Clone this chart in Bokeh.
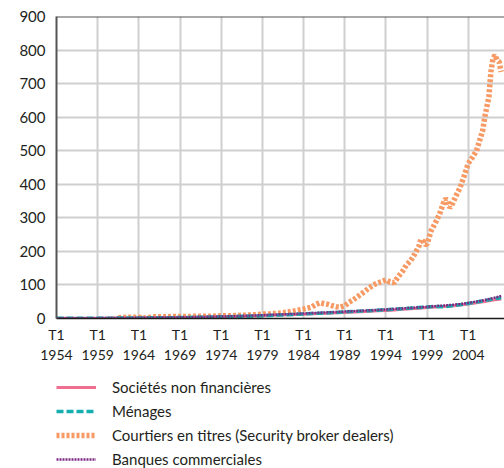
from bokeh.plotting import figure
from bokeh.layouts import column
from bokeh.models import Range1d, FixedTicker, Legend, LegendItem, Span
from bokeh.embed import file_html
from bokeh.resources import INLINE

# ---- data ----
years = list(range(1954, 2009))

societes = [0.5, 0.6, 0.7, 0.8, 0.9, 1.0, 1.1, 1.2, 1.3, 1.5, 1.7, 1.9, 2.1, 2.4, 2.7,
            3.0, 3.3, 3.6, 4.0, 4.5, 5.0, 5.5, 6.1, 6.8, 7.6, 8.5, 9.4, 10.3, 11.1, 12.0,
            13.0, 14.0, 15.0, 16.0, 17.0, 18.2, 19.3, 20.3, 21.5, 22.8, 24.2, 25.6, 27.2,
            28.9, 30.7, 32.5, 34.3, 35.8, 37.5, 40.0, 43.5, 47.0, 50.5, 55.0, 58.0]

menages = [0.4, 0.5, 0.6, 0.7, 0.8, 0.9, 1.0, 1.1, 1.3, 1.4, 1.6, 1.8, 2.0, 2.3, 2.6,
           2.9, 3.2, 3.5, 3.9, 4.4, 4.9, 5.4, 6.0, 6.7, 7.5, 8.4, 9.3, 10.2, 11.2, 12.3,
           13.4, 14.6, 15.8, 17.0, 18.2, 19.5, 20.8, 22.0, 23.4, 24.8, 26.3, 27.8, 29.4,
           31.0, 32.8, 34.5, 36.2, 35.0, 38.0, 41.0, 45.0, 49.0, 53.5, 58.5, 62.0]

banques = [0.6, 0.7, 0.8, 0.9, 1.0, 1.1, 1.3, 1.4, 1.6, 1.8, 2.0, 2.2, 2.5, 2.8, 3.1,
           3.5, 3.9, 4.3, 4.8, 5.3, 5.9, 6.5, 7.2, 8.0, 8.9, 9.9, 10.9, 11.9, 12.9, 13.9,
           15.0, 16.1, 17.2, 18.3, 19.4, 20.6, 21.8, 23.0, 24.3, 25.6, 27.0, 28.5, 30.0,
           31.6, 33.3, 35.0, 36.8, 38.6, 40.5, 43.0, 46.5, 50.5, 55.0, 61.0, 67.0]

courtiers_t = [1961.5, 1962, 1963, 1964, 1964.5, 1965, 1966, 1967, 1968, 1969, 1970,
               1971, 1972, 1973, 1974, 1975, 1976, 1977, 1978, 1979, 1980, 1981, 1982,
               1983, 1984, 1985, 1985.5, 1986, 1986.5, 1987, 1987.5, 1988, 1988.5, 1989,
               1989.5, 1990, 1990.5, 1991, 1991.5, 1992, 1992.5, 1993, 1993.5, 1994,
               1994.5, 1995, 1995.5, 1996, 1996.5, 1997, 1997.5, 1998, 1998.25, 1998.5,
               1998.75, 1999, 1999.5, 2000, 2000.5, 2001, 2001.25, 2001.5, 2001.75, 2002,
               2002.5, 2003, 2003.5, 2004, 2004.5, 2005, 2005.5, 2005.75, 2006, 2006.5,
               2006.75, 2007, 2007.25, 2007.5, 2007.75, 2008]
courtiers = [2, 3, 4, 4, 1, 3, 5, 5, 6, 6, 6,
             7, 7, 7, 8, 8, 9, 10, 11, 13, 14, 16, 19,
             23, 28, 34, 42, 47, 44, 42, 38, 35, 34, 38,
             48, 55, 64, 73, 82, 92, 100, 106, 110, 115,
             109, 107, 125, 140, 160, 172, 192, 215, 236, 230,
             220, 222, 262, 285, 310, 345, 357, 350, 330, 338,
             365, 390, 425, 462, 480, 500, 540, 560, 600, 660,
             735, 775, 785, 770, 765, 735]

x_ticks = [1954, 1959, 1964, 1969, 1974, 1979, 1984, 1989, 1994, 1999, 2004]
x_labels = ["T1\n1954", "T1\n1959", "T1\n1964", "T1\n1969", "T1\n1974", "T1\n1979",
            "T1\n1984", "T1\n1989", "T1\n1994", "T1\n1999", "T1\n2004"]
y_ticks = [0, 100, 200, 300, 400, 500, 600, 700, 800, 900]

names = ["Sociétés non financières", "Ménages",
         "Courtiers en titres (Security broker dealers)", "Banques commerciales"]

FONT = "Lato"
TXT = "#231f20"

styles = {
    "soc": dict(line_color="#ef6f90", line_width=3),
    "men": dict(line_color="#17aeb0", line_width=3.5, line_dash="7 3"),
    "cour": dict(line_color="#f79a63", line_width=5.5, line_dash="3 2"),
    "ban": dict(line_color="#7d2a82", line_width=2.5, line_dash="2 1"),
}

p = figure(width=504, height=364, output_backend="svg", toolbar_location=None,
           x_range=Range1d(1954, 2008.4), y_range=Range1d(0, 900),
           min_border_left=56, min_border_right=0, min_border_top=16,
           min_border_bottom=46)
p.frame_width = 448
p.frame_height = 302
p.outline_line_color = None

# grids
p.xgrid.ticker = FixedTicker(ticks=x_ticks)
p.ygrid.ticker = FixedTicker(ticks=y_ticks)
for g in (p.xgrid[0], p.ygrid[0]):
    g.grid_line_color = "#cfcfcf"
    g.grid_line_width = 2

# axes
xa = p.xaxis[0]
xa.ticker = FixedTicker(ticks=x_ticks)
xa.major_label_overrides = {t: l for t, l in zip(x_ticks, x_labels)}
xa.major_tick_out = 0
xa.major_tick_in = 0
xa.minor_tick_out = 0
xa.minor_tick_in = 0
xa.axis_line_color = "#1a1a1a"
xa.axis_line_width = 1.5
xa.major_label_standoff = 7
xa.major_label_text_font = FONT
xa.major_label_text_font_size = "14px"
xa.major_label_text_color = TXT

ya = p.yaxis[0]
ya.ticker = FixedTicker(ticks=y_ticks)
ya.major_tick_out = 0
ya.major_tick_in = 0
ya.minor_tick_out = 0
ya.minor_tick_in = 0
ya.axis_line_color = "#555555"
ya.axis_line_width = 2
ya.major_label_standoff = 11
ya.major_label_text_font = FONT
ya.major_label_text_font_size = "15px"
ya.major_label_text_color = TXT

p.add_layout(Span(location=900, dimension="width", line_color="#555555", line_width=2))

# series
p.line(courtiers_t, courtiers, **styles["cour"])
p.line(years, societes, **styles["soc"])
p.line(years, menages, **styles["men"])
p.line(years, banques, **styles["ban"])

# legend figure below the chart (its lines lie outside its visible range)
lg = figure(width=504, height=104, output_backend="svg", toolbar_location=None,
            x_range=Range1d(0, 1), y_range=Range1d(0, 1),
            min_border_left=0, min_border_right=0, min_border_top=0,
            min_border_bottom=0)
lg.axis.visible = False
lg.grid.visible = False
lg.outline_line_color = None
l_soc = lg.line(years, societes, **styles["soc"])
l_men = lg.line(years, menages, **styles["men"])
l_cour = lg.line(courtiers_t, courtiers, **styles["cour"])
l_ban = lg.line(years, banques, **styles["ban"])

legend = Legend(items=[LegendItem(label=names[0], renderers=[l_soc]),
                       LegendItem(label=names[1], renderers=[l_men]),
                       LegendItem(label=names[2], renderers=[l_cour]),
                       LegendItem(label=names[3], renderers=[l_ban])],
                location=(0, -2))
legend.margin = 0
legend.padding = 0
legend.spacing = 0
legend.border_line_color = None
legend.background_fill_alpha = 0
legend.glyph_width = 40
legend.glyph_height = 24
legend.label_height = 24
legend.label_standoff = 16
legend.label_text_font = FONT
legend.label_text_font_size = "15px"
legend.label_text_color = TXT
lg.add_layout(legend, "center")

layout = column(p, lg, spacing=0)
open("out.html", "w").write(file_html(layout, INLINE))
